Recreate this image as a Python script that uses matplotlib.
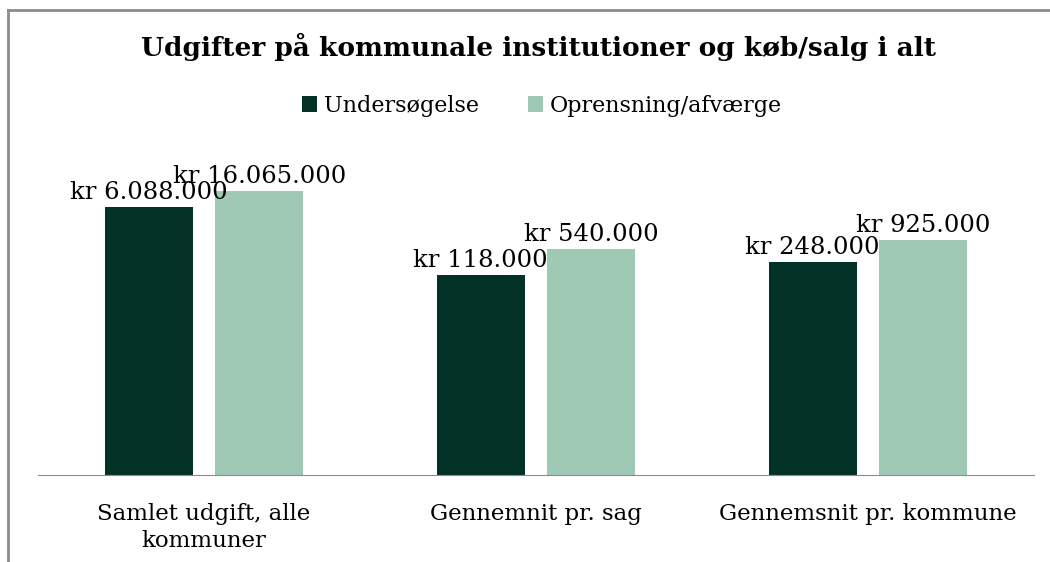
import matplotlib.pyplot as plt
import numpy as np

plt.rcParams['font.family'] = ['DejaVu Serif', 'Liberation Serif']

#Data
categories = ["Samlet udgift, alle\nkommuner", "Gennemnit pr. sag", "Gennemsnit pr. kommune"]
undersoegelse = [6088000, 118000, 248000]
oprensning = [16065000, 540000, 925000]
series_names = ["Undersøgelse", "Oprensning/afværge"]

def kr(v):
    return "kr " + f"{v:,}".replace(",", ".")

fig = plt.figure(figsize=(10.5, 5.62), dpi=100)
ax = fig.add_axes([0.0362, 0.1548, 0.9486, 0.578])

x = np.arange(len(categories))
w = 0.265
b1 = ax.bar(x - 0.167, undersoegelse, w, color="#023126", label=series_names[0])
b2 = ax.bar(x + 0.167, oprensning, w, color="#9fc8b5", label=series_names[1])

ax.set_yscale("log")
ax.set_ylim(1, 10**8.23)
ax.set_xlim(-0.5, 2.5)

for bars, vals in [(b1, undersoegelse), (b2, oprensning)]:
    for r, v in zip(bars, vals):
        ax.annotate(kr(v), (r.get_x() + r.get_width() / 2, v), xytext=(0, 2),
                    textcoords="offset points", ha="center", va="bottom", fontsize=17.5)

for s in ["top", "right", "left"]:
    ax.spines[s].set_visible(False)
ax.spines["bottom"].set_color("#8c8c8c")
ax.set_yticks([])
ax.set_yticks([], minor=True)
ax.set_xticks(x)
ax.set_xticklabels(categories, fontsize=16.5, linespacing=1.3)
ax.tick_params(axis="x", length=0, pad=20)

fig.text(0.513, 0.917, "Udgifter på kommunale institutioner og køb/salg i alt",
         ha="center", va="center", fontsize=19, fontweight="bold")
fig.legend(loc="center", bbox_to_anchor=(0.516, 0.812), ncol=2, frameon=False,
           fontsize=16, handlelength=0.7, handleheight=0.7, handletextpad=0.3,
           columnspacing=2.2)

# chart frame (top and left edge visible)
fig.add_artist(plt.Line2D([0.0076, 0.0076], [0, 0.983], color="#8c8c8c", lw=2))
fig.add_artist(plt.Line2D([0.0076, 1], [0.983, 0.983], color="#8c8c8c", lw=2))

fig.savefig("out.png", dpi=100)
